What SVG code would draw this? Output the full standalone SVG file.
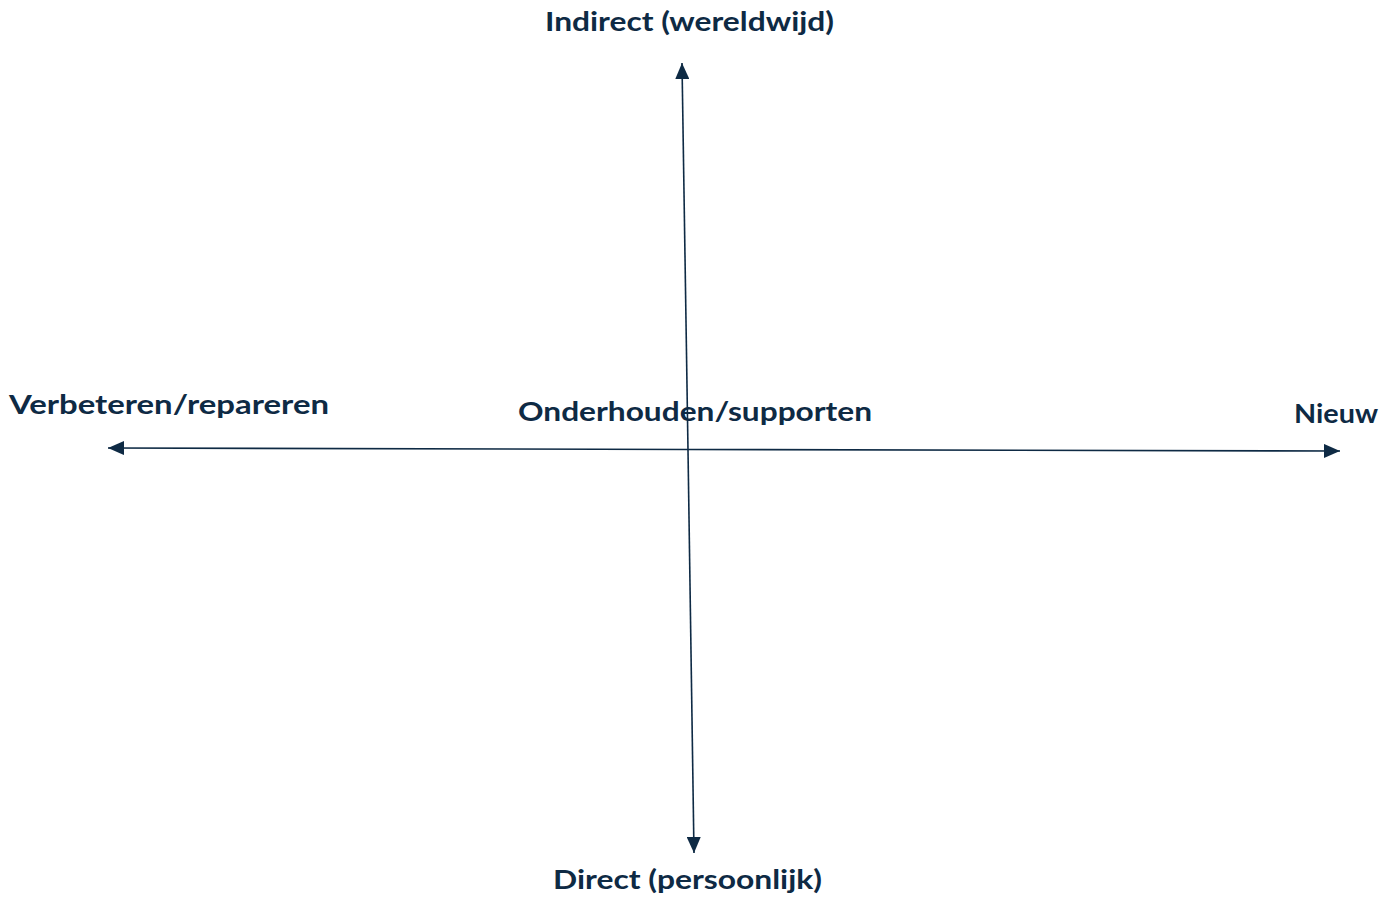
<svg xmlns="http://www.w3.org/2000/svg" width="1396" height="901" viewBox="0 0 1396 901">
<style>
.lbl{font-family:"Lato","Noto Sans","Liberation Sans",sans-serif;font-weight:bold;font-size:27px;fill:#0e2a44}
.ax{stroke:#0e2a44;stroke-width:1.6;fill:none}
</style>
<defs>
<marker id="ah" viewBox="0 0 16 14" refX="16" refY="7" markerWidth="16" markerHeight="14" markerUnits="userSpaceOnUse" orient="auto">
<path d="M0,0 L16,7 L0,14 Z" fill="#0e2a44"/>
</marker>
</defs>
<rect width="1396" height="901" fill="#ffffff"/>
<g id="connectors">
<line class="ax" x1="688" y1="450" x2="682" y2="63" marker-end="url(#ah)"/>
<line class="ax" x1="688" y1="450" x2="694" y2="853" marker-end="url(#ah)"/>
<line class="ax" x1="688" y1="449.5" x2="108" y2="448" marker-end="url(#ah)"/>
<line class="ax" x1="688" y1="449.5" x2="1340" y2="451" marker-end="url(#ah)"/>
</g>
<g id="top"><text class="lbl" x="545" y="31" textLength="289" lengthAdjust="spacingAndGlyphs">Indirect (wereldwijd)</text></g>
<g id="left"><text class="lbl" x="9" y="414" textLength="320" lengthAdjust="spacingAndGlyphs">Verbeteren/repareren</text></g>
<g id="center"><text class="lbl" x="518" y="421" textLength="354" lengthAdjust="spacingAndGlyphs">Onderhouden/supporten</text></g>
<g id="right"><text class="lbl" x="1294" y="423" textLength="84" lengthAdjust="spacingAndGlyphs">Nieuw</text></g>
<g id="bottom"><text class="lbl" x="553" y="889" textLength="269" lengthAdjust="spacingAndGlyphs">Direct (persoonlijk)</text></g>
</svg>
